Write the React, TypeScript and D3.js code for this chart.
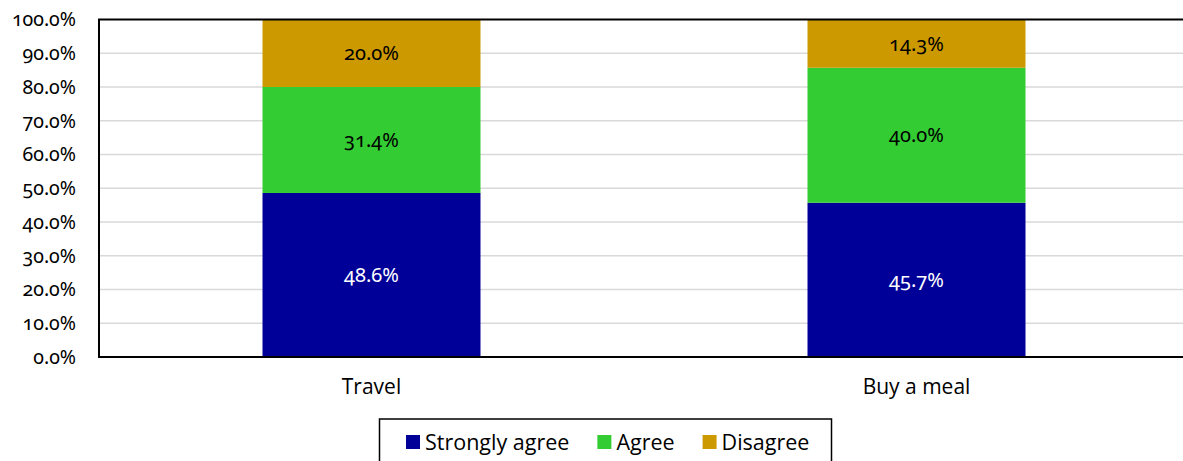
import React, { useEffect, useRef } from "react";
import * as d3 from "d3";

const categories = ["Travel", "Buy a meal"];
const seriesNames = ["Strongly agree", "Agree", "Disagree"];
const stronglyAgree = [48.6, 45.7];
const agree = [31.4, 40.0];
const disagree = [20.0, 14.3];
const seriesColors = ["#000099", "#33cc33", "#cc9900"];
const labelColors = ["#ffffff", "#000000", "#000000"];
const yTicks = [0, 10, 20, 30, 40, 50, 60, 70, 80, 90, 100];

const W = 1183;
const H = 461;

export default function App() {
  const ref = useRef<SVGSVGElement | null>(null);

  useEffect(() => {
    const svg = d3.select(ref.current);
    svg.selectAll("*").remove();

    const left = 99, top = 19.5, bottom = 357, right = 1189;
    const x = d3.scaleBand().domain(categories).range([left, right]).paddingInner(0.6).paddingOuter(0.3);
    const y = d3.scaleLinear().domain([0, 100]).range([bottom, top]);

    const tickFont = "Candara, 'Noto Sans', sans-serif";
    const sansFont = "'Open Sans', 'Noto Sans', sans-serif";

    svg.append("g").selectAll("line").data(yTicks.filter(t => t > 0 && t < 100)).join("line")
      .attr("x1", left).attr("x2", right)
      .attr("y1", d => y(d)).attr("y2", d => y(d))
      .attr("stroke", "#d9d9d9").attr("stroke-width", 1.5);

    svg.append("g").selectAll("text").data(yTicks).join("text")
      .attr("x", 76).attr("y", d => y(d)).attr("dy", "0.35em")
      .attr("text-anchor", "end")
      .style("font-family", tickFont).style("font-size", "19.5px")
      .style("font-variant-numeric", "oldstyle-nums")
      .attr("fill", "#000")
      .text(d => d.toFixed(1) + "%");

    const data = categories.map((c, i) => ({ cat: c, s0: stronglyAgree[i], s1: agree[i], s2: disagree[i] }));
    const stack = d3.stack<any>().keys(["s0", "s1", "s2"]);
    const layers = stack(data);

    layers.forEach((layer, li) => {
      const g = svg.append("g");
      g.selectAll("rect").data(layer).join("rect")
        .attr("x", d => x(d.data.cat)!)
        .attr("width", x.bandwidth())
        .attr("y", d => y(d[1]))
        .attr("height", d => y(d[0]) - y(d[1]))
        .attr("fill", seriesColors[li]);
      g.selectAll("text").data(layer).join("text")
        .attr("x", d => x(d.data.cat)! + x.bandwidth() / 2)
        .attr("y", d => (y(d[0]) + y(d[1])) / 2)
        .attr("dy", "0.35em")
        .attr("text-anchor", "middle")
        .style("font-family", tickFont).style("font-size", "20px")
        .style("font-variant-numeric", "oldstyle-nums")
        .attr("fill", labelColors[li])
        .text(d => (d[1] - d[0]).toFixed(1) + "%");
    });

    svg.append("path")
      .attr("d", `M${right},${top}H${left}V${bottom}H${right}`)
      .attr("fill", "none").attr("stroke", "#000").attr("stroke-width", 2);

    svg.append("g").selectAll("text").data(categories).join("text")
      .attr("x", d => x(d)! + x.bandwidth() / 2)
      .attr("y", 387).attr("dy", "0.35em")
      .attr("text-anchor", "middle")
      .style("font-family", sansFont).style("font-size", "21px")
      .attr("fill", "#000")
      .text(d => d);

    const lg = svg.append("g");
    lg.append("rect").attr("x", 379.5).attr("y", 419).attr("width", 452).attr("height", 60)
      .attr("fill", "#fff").attr("stroke", "#000").attr("stroke-width", 1.5);
    let cx = 406;
    seriesNames.forEach((name, i) => {
      lg.append("rect").attr("x", cx).attr("y", 435).attr("width", 14).attr("height", 14).attr("fill", seriesColors[i]);
      const t = lg.append("text").attr("x", cx + 19).attr("y", 442).attr("dy", "0.35em")
        .style("font-family", sansFont).style("font-size", "21.5px").attr("fill", "#000").text(name);
      const w = (t.node() as SVGTextElement).getComputedTextLength();
      cx = cx + 19 + w + 28;
    });
  }, []);

  return (
    <svg ref={ref} width={W} height={H} style={{ position: "absolute", left: 0, top: 0, background: "#fff" }} />
  );
}
